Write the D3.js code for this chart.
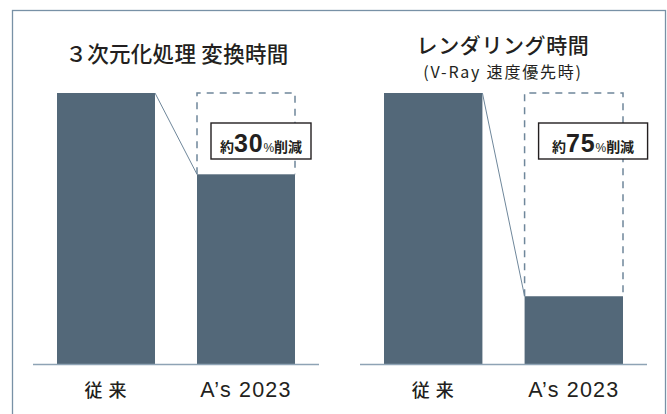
<!DOCTYPE html>
<html>
<head>
<meta charset="utf-8">
<script src="https://cdn.jsdelivr.net/npm/d3@7.9.0/dist/d3.min.js"></script>
<style>
  html, body { margin: 0; padding: 0; background: #fff; }
  svg { display: block; font-family: "Noto Sans CJK JP", "Noto Sans", sans-serif; }
</style>
</head>
<body>
<div id="chart"></div>
<script>
// data
const categories = ["従 来", "A’s 2023"];
const conversionTime = [100, 70];   // 3次元化処理 変換時間 (relative)
const renderingTime = [100, 25];    // レンダリング時間 (relative)
const reductionLabels = ["30", "75"];
const panelTitles = [["３次元化処理 変換時間"], ["レンダリング時間", "(V-Ray 速度優先時)"]];

const W = 667, H = 414;
const barColor = "#536879";
const lineColor = "#8ea3b5";
const latin = "'Liberation Sans', Arial, sans-serif";

const svg = d3.select("#chart").append("svg")
  .attr("width", W)
  .attr("height", H);

// outer frame
svg.append("rect")
  .attr("x", 12.5).attr("y", 10.5)
  .attr("width", 653).attr("height", 420)
  .attr("fill", "#fff")
  .attr("stroke", "#7891a6")
  .attr("stroke-width", 1.3);

const y = d3.scaleLinear().domain([0, 100]).range([364, 93]);

const panels = [
  { values: conversionTime, range: [57, 295], base: [33, 319], titleX: 177, label: reductionLabels[0], labelDx: 14, boxW: 100, titles: panelTitles[0] },
  { values: renderingTime, range: [384, 623], base: [360, 647], titleX: 503, label: reductionLabels[1], labelDx: 14, boxW: 109, titles: panelTitles[1] }
];

panels.forEach(p => {
  const g = svg.append("g");
  const x = d3.scaleBand().domain(categories).range(p.range).paddingInner(0.3).paddingOuter(0);

  // titles
  if (p.titles.length === 1) {
    g.append("text")
      .attr("x", p.titleX).attr("y", 62)
      .attr("text-anchor", "middle")
      .attr("font-size", 21.5).attr("font-weight", 500)
      .attr("letter-spacing", 0.3)
      .attr("fill", "#231f20")
      .text(p.titles[0]);
  } else {
    g.append("text")
      .attr("x", p.titleX).attr("y", 53)
      .attr("text-anchor", "middle")
      .attr("font-size", 21).attr("font-weight", 500)
      .attr("letter-spacing", 0.6)
      .attr("fill", "#231f20")
      .text(p.titles[0]);
    g.append("text")
      .attr("x", p.titleX).attr("y", 78)
      .attr("text-anchor", "middle")
      .attr("font-size", 16).attr("font-weight", 400)
      .attr("letter-spacing", 1.8)
      .attr("fill", "#231f20")
      .text(p.titles[1]);
  }

  // dashed box showing original height over second bar
  const x2 = x(categories[1]);
  g.append("path")
    .attr("d", `M${x2},${y(p.values[1])} V${y(p.values[0])} H${x2 + x.bandwidth()} V${y(p.values[1])}`)
    .attr("fill", "none")
    .attr("stroke", "#6f879b")
    .attr("stroke-width", 1.5)
    .attr("stroke-dasharray", "7,6");

  // bars
  g.selectAll("rect.bar")
    .data(p.values)
    .join("rect")
    .attr("class", "bar")
    .attr("x", (d, i) => x(categories[i]))
    .attr("y", d => y(d))
    .attr("width", x.bandwidth())
    .attr("height", d => y(0) - y(d))
    .attr("fill", barColor);

  // connector line
  g.append("line")
    .attr("x1", x(categories[0]) + x.bandwidth()).attr("y1", y(p.values[0]))
    .attr("x2", x2).attr("y2", y(p.values[1]))
    .attr("stroke", "#6f879b")
    .attr("stroke-width", 1);

  // baseline
  g.append("line")
    .attr("x1", p.base[0]).attr("x2", p.base[1])
    .attr("y1", y(0) + 0.5).attr("y2", y(0) + 0.5)
    .attr("stroke", lineColor)
    .attr("stroke-width", 1.5);

  // category labels
  g.selectAll("text.cat")
    .data(categories)
    .join("text")
    .attr("class", "cat")
    .attr("x", d => x(d) + x.bandwidth() / 2)
    .attr("y", 397)
    .attr("text-anchor", "middle")
    .attr("fill", "#231f20")
    .each(function(d, i) {
      const t = d3.select(this);
      if (i === 0) t.attr("font-size", 18).attr("font-weight", 500).attr("letter-spacing", 1);
      else t.attr("font-size", 21.5).attr("font-family", latin).attr("letter-spacing", 1.2);
    })
    .text(d => d);

  // reduction label box
  const bx = x2 + p.labelDx;
  g.append("rect")
    .attr("x", bx).attr("y", 123)
    .attr("width", p.boxW).attr("height", 36)
    .attr("fill", "#fff")
    .attr("stroke", "#231f20")
    .attr("stroke-width", 1.4);
  const lbl = g.append("text")
    .attr("x", bx + p.boxW / 2).attr("y", 152)
    .attr("text-anchor", "middle")
    .attr("fill", "#231f20")
    .attr("font-weight", 700);
  lbl.append("tspan").attr("font-size", 14).text("約");
  lbl.append("tspan").attr("font-size", 25).attr("font-family", latin).attr("letter-spacing", 0.8).text(p.label);
  lbl.append("tspan").attr("font-size", 12).attr("font-family", latin).attr("font-weight", 400).text("%");
  lbl.append("tspan").attr("font-size", 14).text("削減");
});
</script>
</body>
</html>
